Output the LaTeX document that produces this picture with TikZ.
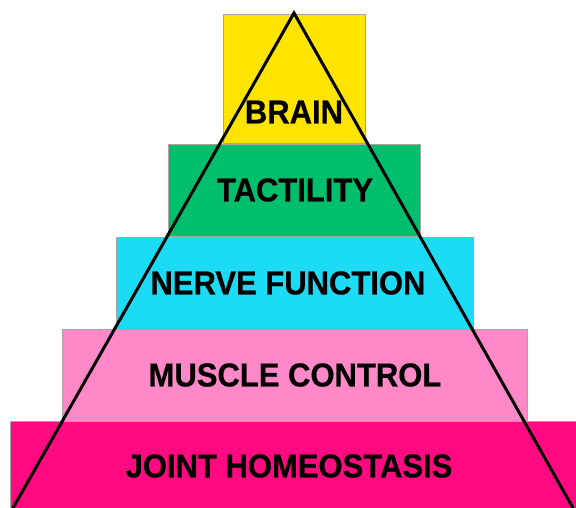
\documentclass[tikz,border=0pt]{standalone}
\usepackage{fontspec}
\usepackage{graphicx}
\setmainfont{Liberation Sans}
\newfontfamily\layerfont{Liberation Sans Bold}[FakeBold=0.6]
\definecolor{brainyellow}{HTML}{FFE400}
\definecolor{tactgreen}{HTML}{00BF6C}
\definecolor{nervecyan}{HTML}{1CDCF5}
\definecolor{musclepink}{HTML}{FF88C8}
\definecolor{jointmagenta}{HTML}{FF0A80}
\tikzset{
  layer/.style={draw=gray!70, line width=0.6pt},
  layertext/.style={font=\fontsize{31}{31}\layerfont, inner sep=0pt}
}
\begin{document}
\begin{tikzpicture}[x=1pt,y=-1pt]
\useasboundingbox (0,0) rectangle (576,508);
\foreach \c/\l/\t/\r/\b in {brainyellow/223/14/365/143, tactgreen/168/144/420/236,
  nervecyan/116/237/473/329, musclepink/62/329/527/421, jointmagenta/10/421/590/520}
\draw[layer, fill=\c] (\l,\t) rectangle (\r,\b);
\foreach \n/\x/\y/\t in {brain/294/112/BRAIN, tact/295/190/TACTILITY,
  nerve/288/283/NERVE FUNCTION, muscle/295/375/MUSCLE CONTROL, joint/289/466/JOINT HOMEOSTASIS}
\node[layertext] (\n) at (\x,\y) {\scalebox{1}[1.07]{\t}};
\path
(294,13) coordinate (apex)
(13,508) coordinate (left)
(573,508) coordinate (right);
\draw[line width=3pt, miter limit=20] (left)--(apex)--(right);
\end{tikzpicture}
\end{document}
